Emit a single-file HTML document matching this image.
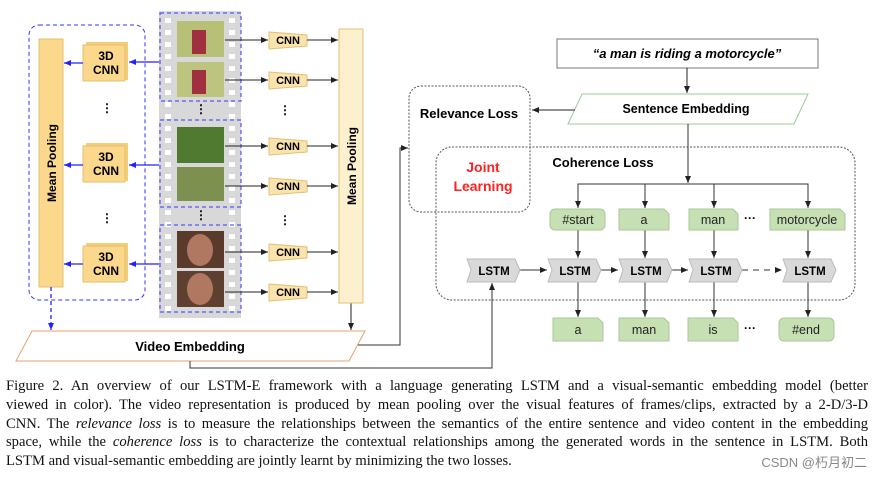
<!DOCTYPE html>
<html><head><style>
body{margin:0;background:#fff;width:875px;height:477px;overflow:hidden;position:relative;font-family:"Liberation Sans",sans-serif}
.cap{position:absolute;left:6px;top:377px;width:862px;font-family:"Liberation Serif",serif;font-size:14.6px;line-height:18.8px;color:#111}
.cap div{text-align:justify;text-align-last:justify;white-space:nowrap}
.cap div.last{text-align-last:left}
.wm{position:absolute;right:8px;top:452px;font-size:13px;color:#888;font-family:"Liberation Sans","Noto Sans CJK SC",sans-serif}
</style></head><body>
<svg width="875" height="477" style="position:absolute;left:0;top:0" font-family="Liberation Sans, sans-serif" font-weight="bold">
<defs>
<marker id="a" markerWidth="8" markerHeight="8" refX="7" refY="4" orient="auto" markerUnits="userSpaceOnUse"><path d="M0,1 L7,4 L0,7z" fill="#222"/></marker>
<marker id="b" markerWidth="8" markerHeight="8" refX="7" refY="4" orient="auto" markerUnits="userSpaceOnUse"><path d="M0,1 L7,4 L0,7z" fill="#22f"/></marker>
</defs>
<rect x="29" y="25" width="116" height="275" rx="10" fill="none" stroke="#33f" stroke-dasharray="4,3"/>
<rect x="39" y="39" width="24" height="248" fill="#fbd88c" stroke="#e2c070"/>
<text transform="translate(56,163) rotate(-90)" text-anchor="middle" font-size="12">Mean Pooling</text>
<g font-size="12" text-anchor="middle">
<g><rect x="86" y="42" width="42" height="38" fill="#f4cd78"/><rect x="83" y="45" width="42" height="36" fill="#fbd88c" stroke="#e2c070"/><text x="106" y="60">3D</text><text x="106" y="74">CNN</text></g>
<g><rect x="86" y="143" width="42" height="38" fill="#f4cd78"/><rect x="83" y="146" width="42" height="36" fill="#fbd88c" stroke="#e2c070"/><text x="106" y="161">3D</text><text x="106" y="175">CNN</text></g>
<g><rect x="86" y="243" width="42" height="38" fill="#f4cd78"/><rect x="83" y="246" width="42" height="36" fill="#fbd88c" stroke="#e2c070"/><text x="106" y="261">3D</text><text x="106" y="275">CNN</text></g>
</g>
<text x="107" y="112" font-size="12" text-anchor="middle">⋮</text>
<text x="107" y="222" font-size="12" text-anchor="middle">⋮</text>
<g stroke="#22f" stroke-width="1.3" marker-end="url(#b)">
<line x1="159" y1="62" x2="129" y2="62"/><line x1="83" y1="63" x2="64" y2="63"/>
<line x1="159" y1="165" x2="129" y2="165"/><line x1="83" y1="165" x2="64" y2="165"/>
<line x1="159" y1="264" x2="129" y2="264"/><line x1="83" y1="264" x2="64" y2="264"/>
<line x1="51" y1="287" x2="51" y2="330" stroke-dasharray="4,3"/>
</g>
<rect x="159" y="11" width="82" height="307" fill="#d8d8d8"/>
<g id="holes" fill="#fff">
<rect x="165" y="18" width="6" height="5"/><rect x="165" y="30" width="6" height="5"/><rect x="165" y="42" width="6" height="5"/><rect x="165" y="54" width="6" height="5"/><rect x="165" y="66" width="6" height="5"/><rect x="165" y="78" width="6" height="5"/><rect x="165" y="90" width="6" height="5"/><rect x="165" y="102" width="6" height="5"/><rect x="165" y="114" width="6" height="5"/><rect x="165" y="126" width="6" height="5"/><rect x="165" y="138" width="6" height="5"/><rect x="165" y="150" width="6" height="5"/><rect x="165" y="162" width="6" height="5"/><rect x="165" y="174" width="6" height="5"/><rect x="165" y="186" width="6" height="5"/><rect x="165" y="198" width="6" height="5"/><rect x="165" y="210" width="6" height="5"/><rect x="165" y="222" width="6" height="5"/><rect x="165" y="234" width="6" height="5"/><rect x="165" y="246" width="6" height="5"/><rect x="165" y="258" width="6" height="5"/><rect x="165" y="270" width="6" height="5"/><rect x="165" y="282" width="6" height="5"/><rect x="165" y="294" width="6" height="5"/><rect x="165" y="306" width="6" height="5"/>
</g>
<use href="#holes" x="64"/>
<g>
<rect x="177" y="21" width="47" height="36" fill="#b8c078"/><rect x="177" y="62" width="47" height="35" fill="#bcc480"/>
<rect x="177" y="127" width="47" height="36" fill="#4f7a30"/><rect x="177" y="167" width="47" height="34" fill="#7e9050"/>
<rect x="177" y="231" width="47" height="37" fill="#5a3a2a"/><rect x="177" y="271" width="47" height="36" fill="#5e4030"/>
<rect x="192" y="30" width="14" height="24" fill="#a03040"/><rect x="192" y="70" width="14" height="24" fill="#a03040"/>
<ellipse cx="200" cy="250" rx="13" ry="16" fill="#b07860"/><ellipse cx="200" cy="289" rx="13" ry="16" fill="#b07860"/>
</g>
<g fill="none" stroke="#33f" stroke-dasharray="4,3">
<rect x="160" y="13" width="81" height="88"/><rect x="160" y="120" width="81" height="87"/><rect x="160" y="225" width="81" height="87"/>
</g>
<text x="201" y="113" font-size="12" text-anchor="middle">⋮</text>
<text x="201" y="219" font-size="12" text-anchor="middle">⋮</text>
<g font-size="11" text-anchor="middle">
<g id="c1"><path d="M269,32 L307,35 L307,46 L269,49z" fill="#fbe3ae" stroke="#e2c070"/><text x="288" y="44">CNN</text></g>
<use href="#c1" y="40"/><use href="#c1" y="106"/><use href="#c1" y="146"/><use href="#c1" y="212"/><use href="#c1" y="252"/>
</g>
<text x="285" y="114" font-size="12" text-anchor="middle">⋮</text>
<text x="285" y="224" font-size="12" text-anchor="middle">⋮</text>
<g stroke="#222" marker-end="url(#a)">
<line x1="225" y1="40" x2="268" y2="40"/><line x1="225" y1="80" x2="268" y2="80"/><line x1="225" y1="146" x2="268" y2="146"/><line x1="225" y1="186" x2="268" y2="186"/><line x1="225" y1="252" x2="268" y2="252"/><line x1="225" y1="292" x2="268" y2="292"/>
<line x1="307" y1="40" x2="338" y2="40"/><line x1="307" y1="80" x2="338" y2="80"/><line x1="307" y1="146" x2="338" y2="146"/><line x1="307" y1="186" x2="338" y2="186"/><line x1="307" y1="252" x2="338" y2="252"/><line x1="307" y1="292" x2="338" y2="292"/>
<line x1="351" y1="303" x2="351" y2="330"/>
</g>
<rect x="339" y="29" width="24" height="274" fill="#fdf0cf" stroke="#e2c070"/>
<text transform="translate(356,166) rotate(-90)" text-anchor="middle" font-size="12">Mean Pooling</text>
<path d="M32,331 L365,331 L349,361 L16,361z" fill="#fff" stroke="#e8a070"/>
<text x="190" y="351" font-size="13" text-anchor="middle">Video Embedding</text>
<g fill="none" stroke="#333">
<polyline points="358,345 400,345 400,148 408,148" marker-end="url(#a)"/>
<polyline points="190,361 190,368 492,368 492,283" marker-end="url(#a)"/>
</g>
<rect x="557" y="39" width="261" height="29" fill="#fff" stroke="#777"/>
<text x="687" y="58" font-size="13" font-style="italic" text-anchor="middle">“a man is riding a motorcycle”</text>
<line x1="687" y1="68" x2="687" y2="93" stroke="#222" marker-end="url(#a)"/>
<path d="M582,94 L808,94 L794,124 L568,124z" fill="#fff" stroke="#9c9"/>
<text x="686" y="113" font-size="12.5" text-anchor="middle">Sentence Embedding</text>
<line x1="575" y1="110" x2="532" y2="110" stroke="#222" marker-end="url(#a)"/>
<rect x="409" y="86" width="121" height="126" rx="12" fill="none" stroke="#555" stroke-dasharray="2,1.5"/>
<text x="469" y="118" font-size="13" text-anchor="middle">Relevance Loss</text>
<rect x="436" y="147" width="419" height="153" rx="16" fill="none" stroke="#555" stroke-dasharray="2,1.5"/>
<text x="483" y="172" font-size="14" fill="#f22" text-anchor="middle">Joint</text>
<text x="483" y="191" font-size="14" fill="#f22" text-anchor="middle">Learning</text>
<text x="603" y="167" font-size="13" text-anchor="middle">Coherence Loss</text>
<g stroke="#333" fill="none">
<line x1="688" y1="124" x2="688" y2="183" marker-end="url(#a)"/>
<polyline points="578,208 578,184 808,184 808,208"/>
<line x1="578" y1="184" x2="578" y2="208" marker-end="url(#a)"/>
<line x1="645" y1="184" x2="645" y2="208" marker-end="url(#a)"/>
<line x1="714" y1="184" x2="714" y2="208" marker-end="url(#a)"/>
<line x1="808" y1="184" x2="808" y2="208" marker-end="url(#a)"/>
<line x1="578" y1="230" x2="578" y2="258" marker-end="url(#a)"/>
<line x1="645" y1="230" x2="645" y2="258" marker-end="url(#a)"/>
<line x1="714" y1="230" x2="714" y2="258" marker-end="url(#a)"/>
<line x1="808" y1="230" x2="808" y2="258" marker-end="url(#a)"/>
<line x1="578" y1="282" x2="578" y2="317" marker-end="url(#a)"/>
<line x1="645" y1="282" x2="645" y2="317" marker-end="url(#a)"/>
<line x1="714" y1="282" x2="714" y2="317" marker-end="url(#a)"/>
<line x1="808" y1="282" x2="808" y2="317" marker-end="url(#a)"/>
<line x1="520" y1="270" x2="547" y2="270" marker-end="url(#a)"/>
<line x1="601" y1="270" x2="618" y2="270" marker-end="url(#a)"/>
<line x1="672" y1="270" x2="688" y2="270" marker-end="url(#a)"/>
<line x1="742" y1="270" x2="782" y2="270" stroke-dasharray="6,5" marker-end="url(#a)"/>
</g>
<g fill="#c6e0b4" stroke="#a8c898">
<rect x="550" y="209" width="55" height="21" rx="5"/>
<path d="M619,209 L664,209 L669,214 L669,230 L619,230z"/>
<path d="M689,209 L733,209 L738,214 L738,230 L689,230z"/>
<path d="M770,209 L840,209 L845,214 L845,230 L770,230z"/>
<path d="M553,318 L598,318 L603,323 L603,341 L553,341z"/>
<path d="M619,318 L664,318 L669,323 L669,341 L619,341z"/>
<path d="M688,318 L733,318 L738,323 L738,341 L688,341z"/>
<rect x="779" y="318" width="55" height="23" rx="5"/>
</g>
<g font-size="12.5" text-anchor="middle" font-weight="normal" fill="#222">
<text x="578" y="224">#start</text><text x="644" y="224">a</text><text x="713" y="224">man</text><text x="807" y="224">motorcycle</text>
<text x="578" y="334">a</text><text x="644" y="334">man</text><text x="713" y="334">is</text><text x="806" y="334">#end</text>
</g>
<text x="750" y="222" font-size="12" text-anchor="middle">···</text>
<text x="750" y="332" font-size="12" text-anchor="middle">···</text>
<g fill="#d9d9d9" stroke="#bbb">
<path id="l1" d="M467,259 L515,259 L520,270 L515,282 L467,282 L471,270z"/>
<use href="#l1" x="81"/><use href="#l1" x="152"/><use href="#l1" x="222"/><use href="#l1" x="316"/>
</g>
<g font-size="11.5" text-anchor="middle">
<text x="494" y="275">LSTM</text><text x="575" y="275">LSTM</text><text x="646" y="275">LSTM</text><text x="716" y="275">LSTM</text><text x="810" y="275">LSTM</text>
</g>
</svg>
<div class="cap">
<div>Figure 2. An overview of our LSTM-E framework with a language generating LSTM and a visual-semantic embedding model (better</div>
<div>viewed in color). The video representation is produced by mean pooling over the visual features of frames/clips, extracted by a 2-D/3-D</div>
<div>CNN. The <i>relevance loss</i> is to measure the relationships between the semantics of the entire sentence and video content in the embedding</div>
<div>space, while the <i>coherence loss</i> is to characterize the contextual relationships among the generated words in the sentence in LSTM. Both</div>
<div class="last">LSTM and visual-semantic embedding are jointly learnt by minimizing the two losses.</div>
</div>
<div class="wm">CSDN @朽月初二</div>
</body></html>
